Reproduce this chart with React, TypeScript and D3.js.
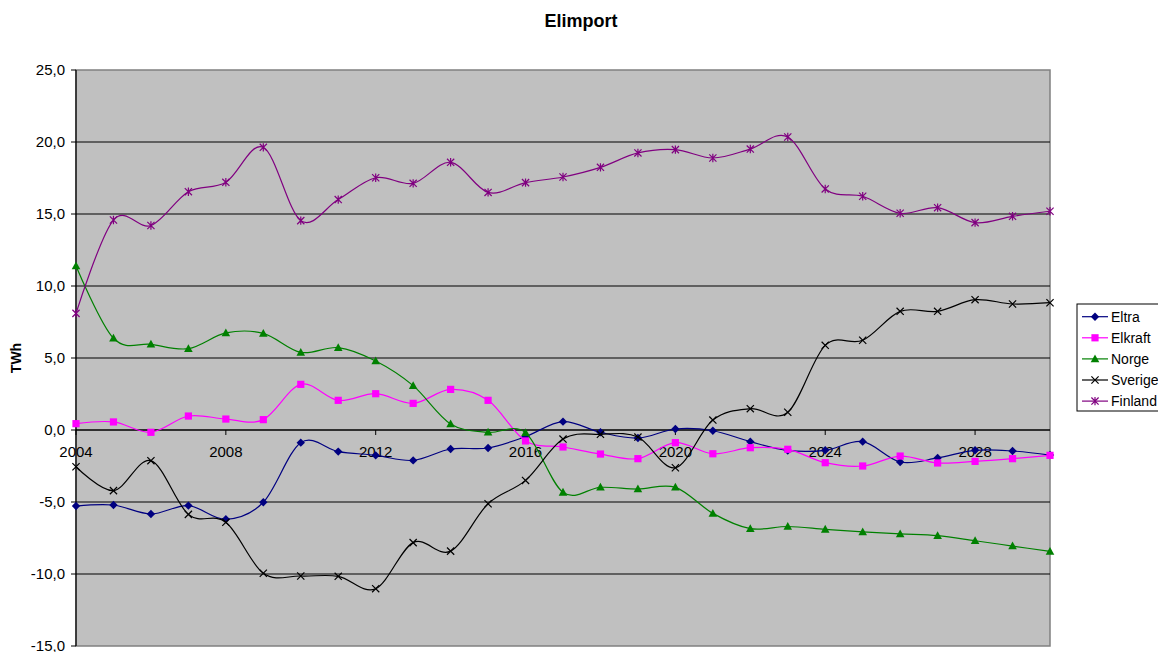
import React from "react";
import * as d3 from "d3";

// Years on the category axis
const years = [
  2004, 2005, 2006, 2007, 2008, 2009, 2010, 2011, 2012, 2013, 2014, 2015, 2016,
  2017, 2018, 2019, 2020, 2021, 2022, 2023, 2024, 2025, 2026, 2027, 2028, 2029, 2030,
];

// Net electricity import per area, TWh
const eltra = [
  -5.28, -5.21, -5.83, -5.25, -6.2, -5.02, -0.88, -1.5, -1.76, -2.11, -1.32, -1.25, -0.46,
  0.58, -0.16, -0.56, 0.07, -0.05, -0.81, -1.42, -1.41, -0.81, -2.22, -1.94, -1.41, -1.46, -1.74,
];
const elkraft = [
  0.44, 0.56, -0.16, 0.97, 0.76, 0.72, 3.17, 2.06, 2.52, 1.85, 2.82, 2.06, -0.76,
  -1.18, -1.67, -1.99, -0.88, -1.65, -1.23, -1.34, -2.27, -2.5, -1.81, -2.29, -2.18, -1.99, -1.76,
];
const norge = [
  11.39, 6.37, 5.95, 5.65, 6.74, 6.71, 5.39, 5.72, 4.79, 3.08, 0.42, -0.16, -0.19,
  -4.33, -3.98, -4.1, -3.98, -5.79, -6.85, -6.7, -6.9, -7.08, -7.22, -7.34, -7.69, -8.06, -8.43,
];
const sverige = [
  -2.55, -4.21, -2.13, -5.86, -6.41, -9.95, -10.14, -10.16, -11.02, -7.82, -8.41, -5.12, -3.5,
  -0.63, -0.3, -0.49, -2.62, 0.69, 1.48, 1.23, 5.88, 6.23, 8.24, 8.24, 9.05, 8.75, 8.84,
];
const finland = [
  8.1, 14.58, 14.2, 16.55, 17.2, 19.63, 14.54, 16.0, 17.52, 17.13, 18.59, 16.5, 17.18,
  17.57, 18.24, 19.24, 19.47, 18.89, 19.51, 20.35, 16.74, 16.23, 15.05, 15.44, 14.4, 14.84, 15.19,
];

const seriesNames = ["Eltra", "Elkraft", "Norge", "Sverige", "Finland"];
const seriesValues = [eltra, elkraft, norge, sverige, finland];
const seriesColors = ["#000080", "#FF00FF", "#008000", "#000000", "#800080"];
const seriesMarkers = ["diamond", "square", "triangle", "cross", "star"];

const yTicks = [25, 20, 15, 10, 5, 0, -5, -10, -15];
const xTickYears = [2004, 2008, 2012, 2016, 2020, 2024, 2028];

const W = 1158;
const H = 652;
const plot = { left: 76, right: 1050, top: 70, bottom: 646 };
const FONT = "'Liberation Sans', Arial, sans-serif";

const x = d3
  .scaleLinear()
  .domain([years[0], years[years.length - 1]])
  .range([plot.left, plot.right]);
const y = d3.scaleLinear().domain([-15, 25]).range([plot.bottom, plot.top]);

const fmt = (v: number) => d3.format(".1f")(v).replace(".", ",").replace("−", "-");

function Marker({ kind, cx, cy, color }: { kind: string; cx: number; cy: number; color: string }) {
  const s = 3.6;
  switch (kind) {
    case "diamond":
      return (
        <path
          d={`M${cx},${cy - 4.2}L${cx + 4.2},${cy}L${cx},${cy + 4.2}L${cx - 4.2},${cy}Z`}
          fill={color}
        />
      );
    case "square":
      return <rect x={cx - 3.6} y={cy - 3.6} width={7.2} height={7.2} fill={color} />;
    case "triangle":
      return (
        <path d={`M${cx},${cy - 4.5}L${cx + 4.3},${cy + 3.3}L${cx - 4.3},${cy + 3.3}Z`} fill={color} />
      );
    case "cross":
      return (
        <path
          d={`M${cx - s},${cy - s}L${cx + s},${cy + s}M${cx - s},${cy + s}L${cx + s},${cy - s}`}
          stroke={color}
          strokeWidth={1.2}
          fill="none"
        />
      );
    default:
      return (
        <path
          d={`M${cx - s},${cy - s}L${cx + s},${cy + s}M${cx - s},${cy + s}L${cx + s},${cy - s}M${cx},${cy - s - 0.6}L${cx},${cy + s + 0.6}`}
          stroke={color}
          strokeWidth={1.2}
          fill="none"
        />
      );
  }
}

export default function App() {
  const line = d3
    .line<number>()
    .x((_, i) => x(years[i]))
    .y((d) => y(d))
    .curve(d3.curveCardinal.tension(0));

  const legendRows = [316.7, 337.8, 358.9, 380, 401.1];

  return (
    <svg
      width={W}
      height={H}
      style={{ position: "absolute", left: 0, top: 0, background: "#fff" }}
      fontFamily={FONT}
    >
      {/* plot background */}
      <rect
        x={plot.left}
        y={plot.top}
        width={plot.right - plot.left}
        height={plot.bottom - plot.top}
        fill="#C0C0C0"
        stroke="#808080"
        strokeWidth={1.5}
      />

      {/* horizontal gridlines */}
      {yTicks
        .filter((t) => t !== 25 && t !== -15)
        .map((t) => (
          <line
            key={`g${t}`}
            x1={plot.left}
            x2={plot.right}
            y1={y(t)}
            y2={y(t)}
            stroke="#000"
            strokeWidth={1}
          />
        ))}

      {/* y axis */}
      <line x1={plot.left} x2={plot.left} y1={plot.top} y2={plot.bottom} stroke="#000" strokeWidth={1.2} />
      {yTicks.map((t) => (
        <g key={`yt${t}`}>
          <line x1={plot.left - 5} x2={plot.left} y1={y(t)} y2={y(t)} stroke="#000" />
          <text x={65} y={y(t) + 5} fontSize={15} textAnchor="end" fill="#000">
            {fmt(t)}
          </text>
        </g>
      ))}

      {/* category axis at zero */}
      <line x1={plot.left} x2={plot.right} y1={y(0)} y2={y(0)} stroke="#000" strokeWidth={1.2} />
      {xTickYears.map((yr) => (
        <g key={`xt${yr}`}>
          <line x1={x(yr)} x2={x(yr)} y1={y(0)} y2={y(0) + 5} stroke="#000" />
          <text x={x(yr)} y={457} fontSize={15} textAnchor="middle" fill="#000">
            {yr}
          </text>
        </g>
      ))}

      {/* series */}
      {seriesValues.map((vals, si) => (
        <g key={seriesNames[si]}>
          <path d={line(vals) ?? ""} fill="none" stroke={seriesColors[si]} strokeWidth={1.2} />
          {vals.map((v, i) => (
            <Marker
              key={i}
              kind={seriesMarkers[si]}
              cx={x(years[i])}
              cy={y(v)}
              color={seriesColors[si]}
            />
          ))}
        </g>
      ))}

      {/* title */}
      <text x={581} y={27} fontSize={18} fontWeight="bold" textAnchor="middle" fill="#000">
        Elimport
      </text>

      {/* y axis title */}
      <text
        transform="translate(20.5,358) rotate(-90)"
        fontSize={14}
        fontWeight="bold"
        textAnchor="middle"
        fill="#000"
      >
        TWh
      </text>

      {/* legend */}
      <rect x={1077} y={304} width={120} height={107} fill="#fff" stroke="#000" strokeWidth={1} />
      {seriesNames.map((name, si) => (
        <g key={`lg${name}`}>
          <line
            x1={1082}
            x2={1108}
            y1={legendRows[si]}
            y2={legendRows[si]}
            stroke={seriesColors[si]}
            strokeWidth={1.2}
          />
          <Marker kind={seriesMarkers[si]} cx={1095} cy={legendRows[si]} color={seriesColors[si]} />
          <text x={1111} y={legendRows[si] + 5} fontSize={14} fill="#000">
            {name}
          </text>
        </g>
      ))}
    </svg>
  );
}
